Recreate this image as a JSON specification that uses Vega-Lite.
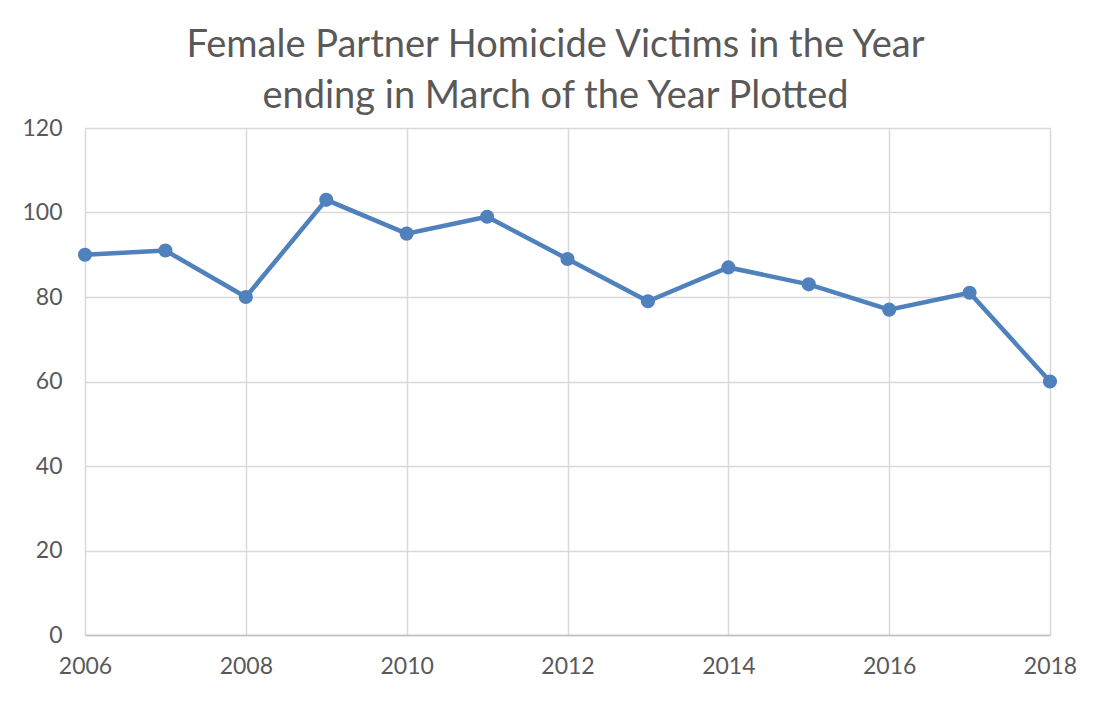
{
  "$schema": "https://vega.github.io/schema/vega-lite/v6.json",
  "width": 965,
  "height": 507,
  "autosize": "none",
  "padding": {"left": 85, "top": 128, "right": 60, "bottom": 69},
  "background": "white",
  "config": {
    "view": {"stroke": null},
    "font": "Lato"
  },
  "title": {
    "text": ["Female Partner Homicide Victims in the Year", "ending in March of the Year Plotted"],
    "fontSize": 38,
    "fontWeight": "normal",
    "font": "Lato",
    "color": "#595959",
    "lineHeight": 51,
    "anchor": "middle",
    "dx": -12,
    "offset": 1
  },
  "data": {
    "values": [
      {"year": 2006, "victims": 90},
      {"year": 2007, "victims": 91},
      {"year": 2008, "victims": 80},
      {"year": 2009, "victims": 103},
      {"year": 2010, "victims": 95},
      {"year": 2011, "victims": 99},
      {"year": 2012, "victims": 89},
      {"year": 2013, "victims": 79},
      {"year": 2014, "victims": 87},
      {"year": 2015, "victims": 83},
      {"year": 2016, "victims": 77},
      {"year": 2017, "victims": 81},
      {"year": 2018, "victims": 60}
    ]
  },
  "encoding": {
    "x": {
      "field": "year",
      "type": "quantitative",
      "scale": {"domain": [2006, 2018], "nice": false, "zero": false},
      "axis": {
        "title": null,
        "values": [2006, 2008, 2010, 2012, 2014, 2016, 2018],
        "format": "d",
        "labelFontSize": 23,
        "labelColor": "#595959",
        "labelFont": "Lato",
        "labelPadding": 20,
        "ticks": false,
        "domainColor": "#bfbfbf",
        "domainWidth": 1.5,
        "gridColor": "#d9d9d9",
        "gridWidth": 1.5,
        "labelFlush": false
      }
    },
    "y": {
      "field": "victims",
      "type": "quantitative",
      "scale": {"domain": [0, 120], "nice": false},
      "axis": {
        "title": null,
        "values": [0, 20, 40, 60, 80, 100, 120],
        "labelFontSize": 23,
        "labelColor": "#595959",
        "labelFont": "Lato",
        "labelPadding": 23,
        "ticks": false,
        "domain": false,
        "gridColor": "#d9d9d9",
        "gridWidth": 1.5
      }
    }
  },
  "layer": [
    {"mark": {"type": "line", "color": "#4F81BD", "strokeWidth": 4.5}},
    {"mark": {"type": "point", "filled": true, "opacity": 1, "color": "#4F81BD", "size": 200}}
  ]
}
